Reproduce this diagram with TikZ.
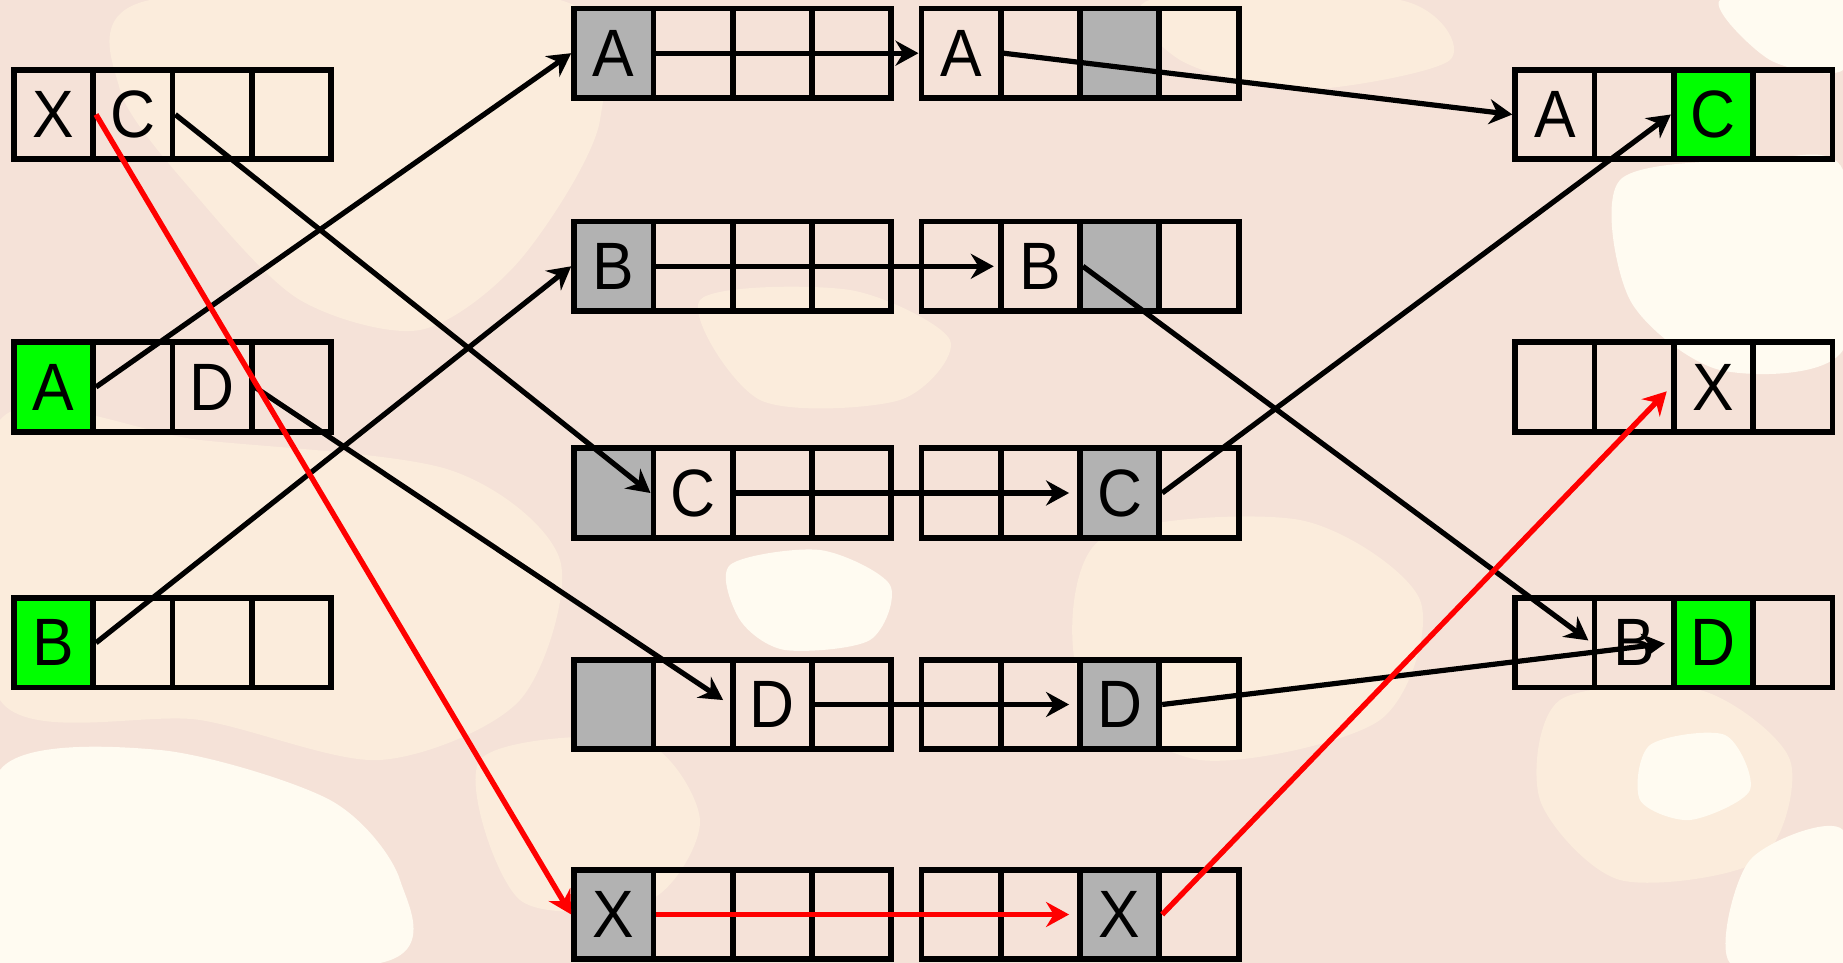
\documentclass[tikz,border=0pt]{standalone}
\usepackage{fontspec}
\setmainfont[FakeStretch=0.93]{Liberation Sans}
\usetikzlibrary{arrows.meta}
\definecolor{bgbase}{RGB}{245,226,216}
\definecolor{bgcream}{RGB}{251,236,220}
\definecolor{bgwhite}{RGB}{255,251,241}
\definecolor{cgray}{RGB}{178,178,178}
\definecolor{cgreen}{RGB}{0,255,0}
\newcommand{\mkrow}[4]{%
  \foreach \txt/\fil [count=\i] in {#4} {
    \node[cell, fill=\fil] (#1-\i) at ({#2+(\i-0.5)*79.3},{#3}) {\txt};
  }%
}
\tikzset{
  cell/.style={draw=black, line width=2.9pt, minimum width=39.65pt, minimum height=44.75pt,
    inner sep=0pt, font=\fontsize{33.5}{33.5}\selectfont},
  arr/.style={draw=black, line width=2.6pt, -{Stealth[length=11.5pt,width=12.5pt,inset=3.8pt]}},
  redarr/.style={arr, draw=red, line width=2.7pt},
}
\begin{document}
\begin{tikzpicture}[x=0.5pt,y=-0.5pt]
\useasboundingbox (0,0) rectangle (1843,963);
% background texture (approximation)
\fill[bgbase] (0,0) rectangle (1843,963);
\fill[bgcream] plot[smooth cycle] coordinates {(150,0) (560,0) (600,120) (520,260) (420,330) (300,300) (200,200) (120,90)};
\fill[bgcream] plot[smooth cycle] coordinates {(0,420) (200,440) (450,470) (560,560) (520,700) (380,760) (200,720) (0,700)};
\fill[bgwhite] plot[smooth cycle] coordinates {(0,770) (160,750) (330,800) (400,880) (380,963) (0,963)};
\fill[bgcream] plot[smooth cycle] coordinates {(480,760) (640,740) (700,820) (650,900) (520,900)};
\fill[bgwhite] plot[smooth cycle] coordinates {(730,565) (820,550) (890,585) (870,640) (785,650) (740,620)};
\fill[bgcream] plot[smooth cycle] coordinates {(1100,540) (1300,520) (1420,600) (1380,720) (1200,760) (1080,680)};
\fill[bgwhite] plot[smooth cycle] coordinates {(1620,180) (1760,160) (1843,170) (1843,350) (1720,370) (1630,300)};
\fill[bgwhite] plot[smooth cycle] coordinates {(1720,0) (1843,0) (1843,70) (1770,60)};
\fill[bgcream] plot[smooth cycle] coordinates {(1560,700) (1700,690) (1790,760) (1760,860) (1620,880) (1540,800)};
\fill[bgwhite] plot[smooth cycle] coordinates {(1650,745) (1725,735) (1750,790) (1690,820) (1640,800)};
\fill[bgwhite] plot[smooth cycle] coordinates {(1750,860) (1843,830) (1843,963) (1730,963)};
\fill[bgcream] plot[smooth cycle] coordinates {(700,300) (850,290) (950,340) (900,400) (760,400)};
\fill[bgcream] plot[smooth cycle] coordinates {(1150,0) (1400,0) (1450,60) (1300,90) (1180,60)};
% left column
\mkrow{L1}{13.8}{114.5}{X/none, C/none, {}/none, {}/none}
\mkrow{L2}{13.8}{387}{A/cgreen, {}/none, D/none, {}/none}
\mkrow{L3}{13.8}{642.8}{B/cgreen, {}/none, {}/none, {}/none}
% middle left
\mkrow{P1}{574.1}{53.2}{A/cgray, {}/none, {}/none, {}/none}
\mkrow{P2}{574.1}{266.3}{B/cgray, {}/none, {}/none, {}/none}
\mkrow{P3}{574.1}{493}{{}/cgray, C/none, {}/none, {}/none}
\mkrow{P4}{574.1}{704.5}{{}/cgray, {}/none, D/none, {}/none}
\mkrow{P5}{574.1}{914.5}{X/cgray, {}/none, {}/none, {}/none}
% middle right
\mkrow{Q1}{921.4}{53.2}{A/none, {}/none, {}/cgray, {}/none}
\mkrow{Q2}{921.4}{266.3}{{}/none, B/none, {}/cgray, {}/none}
\mkrow{Q3}{921.4}{493}{{}/none, {}/none, C/cgray, {}/none}
\mkrow{Q4}{921.4}{704.5}{{}/none, {}/none, D/cgray, {}/none}
\mkrow{Q5}{921.4}{914.5}{{}/none, {}/none, X/cgray, {}/none}
% right column
\mkrow{R1}{1515.2}{114.5}{A/none, {}/none, C/cgreen, {}/none}
\mkrow{R2}{1515.2}{387}{{}/none, {}/none, X/none, {}/none}
\mkrow{R3}{1515.2}{642.8}{{}/none, B/none, D/cgreen, {}/none}
% arrows: left -> middle
\draw[arr] (L2-1.east) -- (P1-1.west);
\draw[arr] (L3-1.east) -- (P2-1.west);
\draw[arr] (L1-2.east) -- (P3-2.west);
\draw[arr, shorten >=4pt] (L2-3.east) -- (P4-3.west);
\draw[redarr] (L1-1.east) -- (P5-1.west);
% middle left -> middle right
\draw[arr] (P1-1.east) -- (Q1-1.west);
\draw[arr, shorten >=2pt] (P2-1.east) -- (Q2-2.west);
\draw[arr, shorten >=4pt] (P3-2.east) -- (Q3-3.west);
\draw[arr, shorten >=4pt] (P4-3.east) -- (Q4-3.west);
\draw[redarr, shorten >=4pt] (P5-1.east) -- (Q5-3.west);
% middle right -> right
\draw[arr] (Q1-1.east) -- (R1-1.west);
\draw[arr, shorten >=2pt] (Q2-2.east) -- (R3-2.west);
\draw[arr] (Q3-3.east) -- (R1-3.west);
\draw[arr, shorten >=3pt] (Q4-3.east) -- (R3-3.west);
\draw[redarr, shorten >=3pt] (Q5-3.east) -- (R2-3.west);
\end{tikzpicture}
\end{document}
